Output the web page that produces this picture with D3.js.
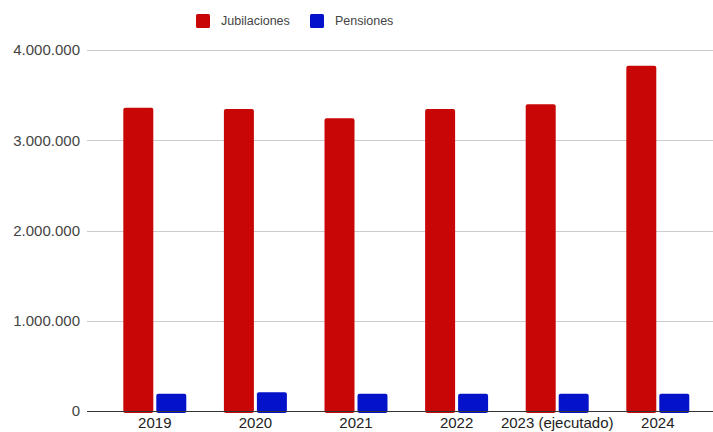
<!DOCTYPE html>
<html>
<head>
<meta charset="utf-8">
<script src="https://cdn.jsdelivr.net/npm/d3@7"></script>
<style>
  html, body { margin: 0; padding: 0; background: #fff; }
  svg { display: block; font-family: "Liberation Sans", Arial, sans-serif; }
</style>
</head>
<body>
<svg id="chart" width="713" height="432"></svg>
<script>
// Años del presupuesto
const categories = ["2019", "2020", "2021", "2022", "2023 (ejecutado)", "2024"];
// Series
const seriesNames = ["Jubilaciones", "Pensiones"];
const jubilaciones = [3360000, 3345000, 3245000, 3345000, 3400000, 3825000];
const pensiones = [192000, 208000, 192000, 192000, 192000, 192000];
// Marcas del eje vertical
const yTicks = [0, 1000000, 2000000, 3000000, 4000000];
const yTickLabels = ["0", "1.000.000", "2.000.000", "3.000.000", "4.000.000"];

const colors = { "Jubilaciones": "#c80606", "Pensiones": "#0412c9" };
const values = { "Jubilaciones": jubilaciones, "Pensiones": pensiones };

const svg = d3.select("#chart");

const y = d3.scaleLinear().domain([0, 4000000]).range([411, 50]);
const x0 = d3.scaleBand().domain(categories).range([104.5, 708.1])
  .paddingInner(0.374).paddingOuter(0.187);
const x1 = d3.scaleBand().domain(seriesNames).range([0, x0.bandwidth()])
  .paddingInner(3 / 33);

// Líneas de cuadrícula
svg.append("g").selectAll("line")
  .data(yTicks.filter(d => d > 0))
  .join("line")
  .attr("x1", 87).attr("x2", 713)
  .attr("y1", d => Math.round(y(d)) + 0.5)
  .attr("y2", d => Math.round(y(d)) + 0.5)
  .attr("stroke", "#cccccc").attr("stroke-width", 1);

// Etiquetas del eje Y
svg.append("g").selectAll("text")
  .data(yTicks)
  .join("text")
  .attr("x", 80)
  .attr("y", d => y(d))
  .attr("dy", "0.35em")
  .attr("text-anchor", "end")
  .attr("font-size", 15)
  .attr("fill", "#444")
  .text((d, i) => yTickLabels[i]);

// Barras
const groups = svg.append("g").selectAll("g")
  .data(categories)
  .join("g")
  .attr("transform", d => `translate(${x0(d)},0)`);

groups.selectAll("rect")
  .data((d, i) => seriesNames.map(s => ({ s, v: values[s][i] })))
  .join("rect")
  .attr("x", d => x1(d.s))
  .attr("width", x1.bandwidth())
  .attr("y", d => y(d.v))
  .attr("height", d => y(0) - y(d.v) + 2)
  .attr("rx", 2)
  .attr("fill", d => colors[d.s]);

// Línea base
svg.append("line")
  .attr("x1", 87).attr("x2", 713)
  .attr("y1", Math.round(y(0)) + 0.5).attr("y2", Math.round(y(0)) + 0.5)
  .attr("stroke", "#333").attr("stroke-width", 1);

// Etiquetas del eje X
svg.append("g").selectAll("text")
  .data(categories)
  .join("text")
  .attr("x", d => x0(d) + x0.bandwidth() / 2)
  .attr("y", 428)
  .attr("text-anchor", "middle")
  .attr("font-size", 15)
  .attr("fill", "#222")
  .text(d => d);

// Leyenda
const legendX = [196, 310];
const legend = svg.append("g").selectAll("g")
  .data(seriesNames)
  .join("g")
  .attr("transform", (d, i) => `translate(${legendX[i]},14)`);
legend.append("rect")
  .attr("width", 14).attr("height", 14).attr("rx", 1.5)
  .attr("fill", d => colors[d]);
legend.append("text")
  .attr("x", 25).attr("y", 7).attr("dy", "0.35em")
  .attr("font-size", 12.5)
  .attr("fill", "#444")
  .text(d => d);
</script>
</body>
</html>
